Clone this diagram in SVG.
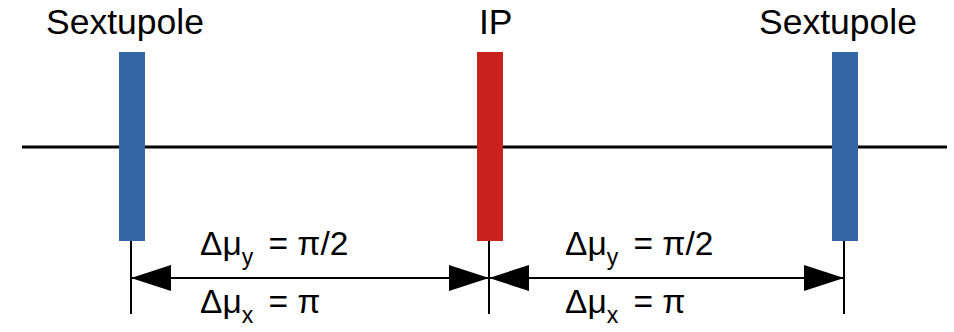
<svg xmlns="http://www.w3.org/2000/svg" width="954" height="332" viewBox="0 0 954 332">
<style>
text{font-family:"Liberation Sans",Arial,sans-serif;fill:#000}
.lbl{font-size:35.5px}
.eq{font-size:33.5px}
.sub{font-size:23px}
.sext{fill:#3465a4}
.ip{fill:#c9211e}
.ln{stroke:#000;stroke-width:2;fill:none}
</style>
<defs>
<marker id="ah" viewBox="0 0 40 26" refX="40" refY="13" markerWidth="40" markerHeight="26" markerUnits="userSpaceOnUse" orient="auto-start-reverse">
<path d="M0,0 L40,13 L0,26 Z" fill="#000"/>
</marker>
</defs>
<line x1="22" y1="147" x2="947" y2="147" stroke="#000" stroke-width="3"/>
<g id="sextupole-left">
<rect class="sext" x="119" y="52" width="26" height="189"/>
<text class="lbl" x="46" y="34">Sextupole</text>
</g>
<g id="ip">
<rect class="ip" x="477" y="52" width="26" height="189"/>
<text class="lbl" x="479" y="34">IP</text>
</g>
<g id="sextupole-right">
<rect class="sext" x="832" y="52" width="26" height="189"/>
<text class="lbl" x="759" y="34">Sextupole</text>
</g>
<g id="connectors">
<line class="ln" x1="131" y1="241" x2="131" y2="314"/>
<line class="ln" x1="489" y1="241" x2="489" y2="314"/>
<line class="ln" x1="844" y1="241" x2="844" y2="314"/>
<line class="ln" x1="131" y1="278" x2="489" y2="278" marker-start="url(#ah)" marker-end="url(#ah)"/>
<line class="ln" x1="489" y1="278" x2="844" y2="278" marker-start="url(#ah)" marker-end="url(#ah)"/>
</g>
<g id="labels-left">
<text class="eq" x="200" y="255">Δμ<tspan class="sub" dy="9.5">y</tspan><tspan dy="-9.5" dx="6"> = π/2</tspan></text>
<text class="eq" x="200" y="313">Δμ<tspan class="sub" dy="9.5">x</tspan><tspan dy="-9.5" dx="6"> = π</tspan></text>
</g>
<g id="labels-right">
<text class="eq" x="565" y="255">Δμ<tspan class="sub" dy="9.5">y</tspan><tspan dy="-9.5" dx="6"> = π/2</tspan></text>
<text class="eq" x="565" y="313">Δμ<tspan class="sub" dy="9.5">x</tspan><tspan dy="-9.5" dx="6"> = π</tspan></text>
</g>
</svg>
